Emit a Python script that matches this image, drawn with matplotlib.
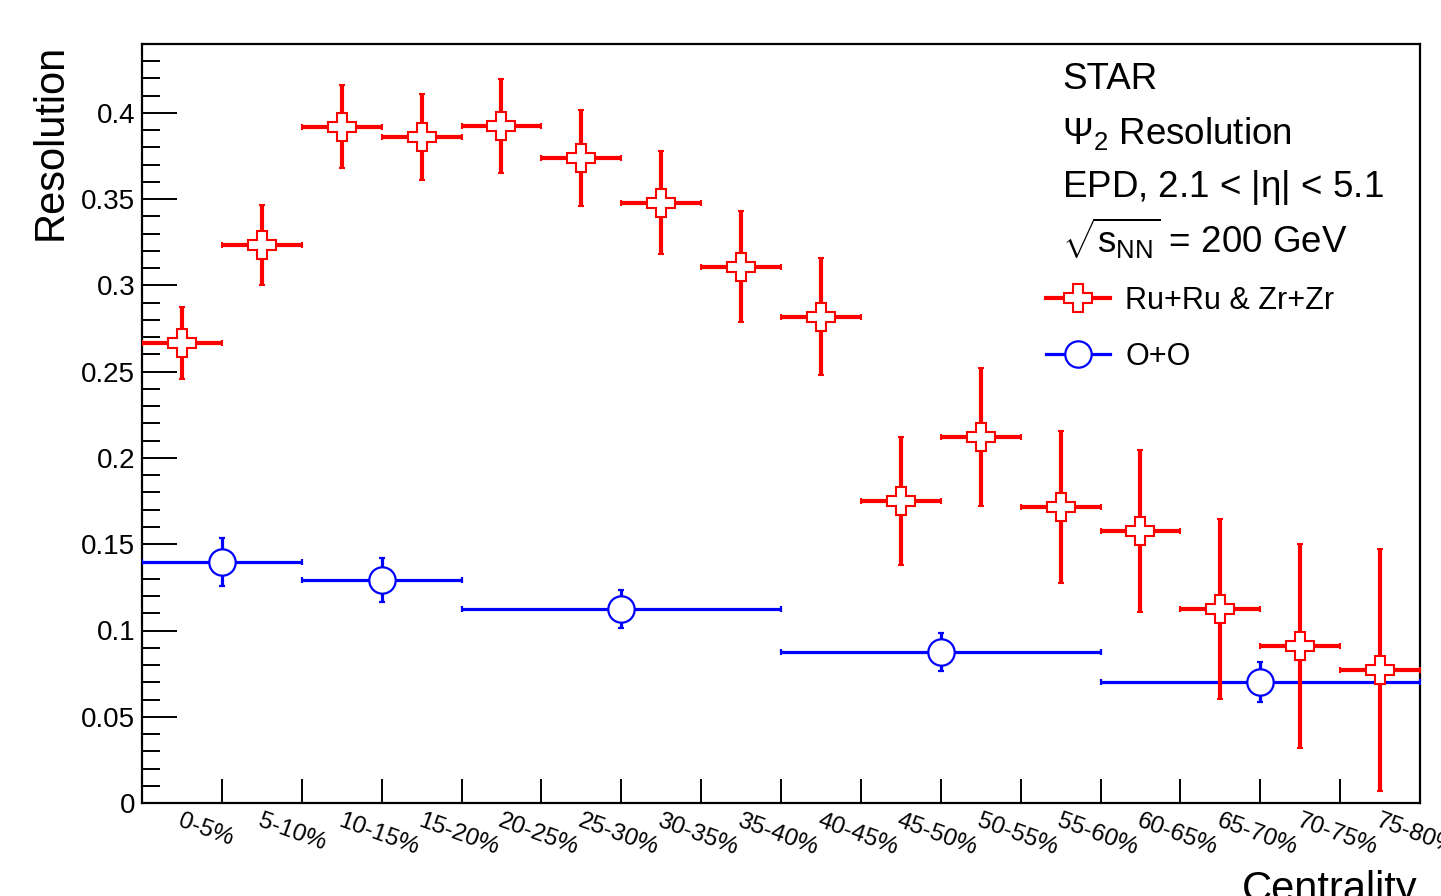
import matplotlib
matplotlib.use("Agg")
import matplotlib.pyplot as plt
import matplotlib.transforms as mtransforms
from matplotlib.lines import Line2D
import numpy as np

plt.rcParams['font.family'] = ['Liberation Sans', 'DejaVu Sans']
plt.rcParams['mathtext.fontset'] = 'custom'
plt.rcParams['mathtext.rm'] = 'Liberation Sans'
plt.rcParams['mathtext.it'] = 'Liberation Sans:italic'
plt.rcParams['mathtext.sf'] = 'Liberation Sans'

# ---------------- data ----------------
cent_labels = ['0-5%', '5-10%', '10-15%', '15-20%', '20-25%', '25-30%', '30-35%', '35-40%',
               '40-45%', '45-50%', '50-55%', '55-60%', '60-65%', '65-70%', '70-75%', '75-80%']
ru_x = [2.5, 7.5, 12.5, 17.5, 22.5, 27.5, 32.5, 37.5, 42.5, 47.5, 52.5, 57.5, 62.5, 67.5, 72.5, 77.5]
ru_xerr = [2.5] * 16
ru_y = [0.2667, 0.3235, 0.392, 0.386, 0.3925, 0.374, 0.348, 0.311,
        0.282, 0.175, 0.212, 0.1716, 0.1577, 0.1125, 0.091, 0.077]
ru_yerr = [0.021, 0.023, 0.024, 0.025, 0.027, 0.028, 0.030, 0.032,
           0.034, 0.037, 0.040, 0.044, 0.047, 0.052, 0.059, 0.070]

oo_x = [5, 15, 30, 50, 70]
oo_xerr = [5, 5, 10, 10, 10]
oo_y = [0.1397, 0.1293, 0.1125, 0.0875, 0.0701]
oo_yerr = [0.014, 0.0127, 0.011, 0.011, 0.0116]

# ---------------- figure ----------------
fig = plt.figure(figsize=(14.41, 8.96), dpi=100)
ax = fig.add_axes([142/1441, 1-803/896, (1420-142)/1441, (803-44)/896])

red = '#ff0000'
blue = '#0000ff'

ax.errorbar(oo_x, oo_y, xerr=oo_xerr, yerr=oo_yerr, fmt='o', ms=19, mfc='white',
            mec=blue, mew=1.6, color=blue, elinewidth=2.3, capsize=2.5, capthick=3.5,
            zorder=3)
ax.errorbar(ru_x, ru_y, xerr=ru_xerr, yerr=ru_yerr, fmt='P', ms=20, mfc='white',
            mec=red, mew=1.5, color=red, elinewidth=3, capsize=2.5, capthick=3.5,
            zorder=4)

ax.set_xlim(0, 80)
ax.set_ylim(0, 0.44)

# x ticks at bin edges, no labels
ax.set_xticks(np.arange(5, 80, 5))
ax.set_xticklabels([])
ax.tick_params(axis='x', which='major', direction='in', length=17, width=1.4,
               top=False, bottom=True)
ax.tick_params(axis='x', which='minor', bottom=False, top=False)

# y ticks
ax.set_yticks(np.arange(0, 0.41, 0.05))
ax.set_yticklabels(['%g' % round(v, 2) for v in np.arange(0, 0.41, 0.05)])
ax.set_yticks(np.arange(0, 0.44, 0.01), minor=True)
ax.tick_params(axis='y', which='major', direction='in', length=25, width=1.4,
               labelsize=20, pad=5, right=False)
ax.tick_params(axis='y', which='minor', direction='in', length=13, width=1.4, right=False)
for s in ax.spines.values():
    s.set_linewidth(1.6)

# rotated category labels
trans = mtransforms.offset_copy(ax.get_xaxis_transform(), fig=fig, x=1, y=-7, units='dots')
for xc, lab in zip(ru_x, cent_labels):
    ax.text(xc, 0, lab, transform=trans, rotation=-20, rotation_mode='anchor',
            ha='left', va='top', fontsize=17.5, clip_on=False)

# axis titles
fig.text(51/1441, 1-44/896, 'Resolution', rotation=90, ha='center', va='top', fontsize=30)
fig.text(1418/1441, 1-870/896, 'Centrality', ha='right', va='top', fontsize=30)

# info text
tx = (1062-142)/1278
def ypos(py):
    return (803-py)/759
fs_info = 26.5
ax.text(tx, ypos(89), 'STAR', transform=ax.transAxes, fontsize=fs_info, va='baseline')
ax.text(tx, ypos(144), r'$\Psi_{2}$ Resolution', transform=ax.transAxes, fontsize=fs_info, va='baseline')
ax.text(tx, ypos(197), r'EPD, 2.1 < |$\mathrm{\eta}$| < 5.1', transform=ax.transAxes, fontsize=fs_info, va='baseline')
ax.text(tx, ypos(253), r'$\sqrt{\mathrm{s}_{\rm NN}}$ = 200 GeV', transform=ax.transAxes, fontsize=fs_info, va='baseline')

# legend
h_ru = Line2D([], [], color=red, lw=3, marker='P', ms=20, mfc='white', mec=red, mew=1.5)
h_oo = Line2D([], [], color=blue, lw=2.3, marker='o', ms=19, mfc='white', mec=blue, mew=1.6)
leg = ax.legend([h_ru, h_oo], ['Ru+Ru & Zr+Zr', 'O+O'], loc='upper left',
                bbox_to_anchor=((1046-142)/1278, ypos(286)), frameon=False,
                fontsize=22, handlelength=2.1, handletextpad=0.5, labelspacing=0.85,
                borderaxespad=0, borderpad=0)

fig.savefig('out.png', dpi=100)
